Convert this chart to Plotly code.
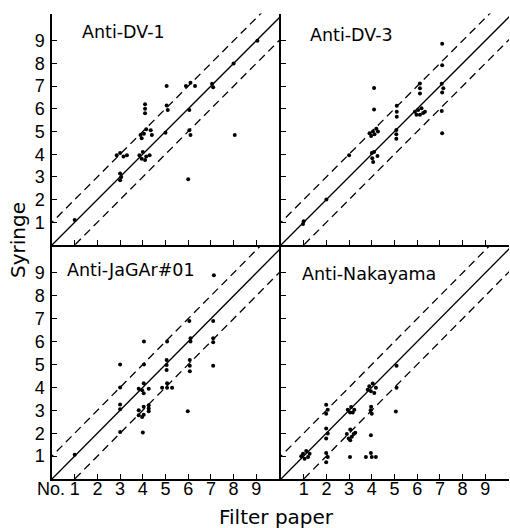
import plotly.graph_objects as go

# ---------------- data (filter paper No. vs syringe No.) ----------------
panel_titles = ["Anti-DV-1", "Anti-DV-3", "Anti-JaGAr#01", "Anti-Nakayama"]
tick_values = [1, 2, 3, 4, 5, 6, 7, 8, 9]
tick_labels = ["1", "2", "3", "4", "5", "6", "7", "8", "9"]
line_offsets = [-1, 0, 1]          # y = x + offset
line_dash = ["8px,5px", "solid", "8px,5px"]

dv1_x = [1.0, 2.85, 3.0, 3.15, 3.3, 3.0, 3.05, 3.0,
         3.85, 4.0, 4.15, 3.95, 4.3, 4.1,
         3.9, 4.05, 4.15, 3.95, 4.35, 4.4,
         4.1, 4.1, 4.1,
         5.05, 5.05, 5.1, 5.0,
         5.9, 6.1, 6.3, 6.05, 6.05, 6.1, 6.0,
         7.05, 7.1, 8.0, 8.05, 9.05]
dv1_y = [1.1, 3.95, 4.05, 3.9, 3.95, 3.15, 3.0, 2.85,
         3.95, 4.1, 3.9, 3.8, 3.95, 3.75,
         4.85, 4.9, 5.1, 4.7, 5.05, 4.85,
         6.2, 6.0, 5.8,
         7.0, 6.15, 5.95, 4.95,
         7.0, 7.15, 7.0, 5.95, 5.05, 4.85, 2.9,
         7.1, 6.95, 8.0, 4.85, 9.0]

dv3_x = [1.0, 0.97, 2.0, 3.0,
         3.9, 4.05, 4.2, 4.27, 3.97, 4.12,
         4.0, 4.1, 4.25, 4.02, 4.06,
         4.1, 4.1,
         5.1, 5.1, 5.1, 5.08, 5.08, 5.08,
         5.9, 6.04, 6.19, 6.26, 5.97, 6.12, 6.34,
         6.12, 6.12, 6.12,
         7.1, 7.1, 7.08, 7.15, 7.1, 7.08, 7.1]
dv3_y = [1.05, 0.92, 2.0, 3.95,
         4.92, 5.0, 5.12, 5.0, 4.8, 4.88,
         4.05, 4.1, 3.92, 3.82, 3.66,
         6.92, 5.97,
         6.13, 5.87, 5.65, 5.07, 4.88, 4.68,
         5.87, 5.95, 6.02, 5.81, 5.74, 5.74, 5.87,
         7.12, 6.9, 6.67,
         8.87, 7.92, 7.1, 6.9, 6.72, 5.9, 4.92]

jag_x = [1.0, 3.0, 3.0, 3.0, 3.0, 3.0,
         4.05, 4.05,
         3.82, 4.04, 4.26, 4.04, 3.97,
         3.82, 4.04, 4.26, 4.26, 3.82, 4.04, 3.97, 4.26,
         4.0,
         5.07, 5.05, 5.05, 5.05,
         4.85, 5.07, 5.29, 5.07,
         6.1, 6.1, 6.07, 6.07, 6.07, 5.98, 6.05,
         7.1, 7.1, 7.1, 7.1, 7.13]
jag_y = [1.06, 5.0, 4.0, 3.25, 3.05, 2.05,
         6.0, 5.0,
         3.94, 4.18, 3.94, 3.74, 3.88,
         3.0, 3.15, 3.22, 2.96, 2.78, 2.81, 2.71, 3.08,
         2.03,
         6.0, 5.2, 4.98, 4.76,
         3.98, 4.18, 3.98, 3.98,
         6.15, 6.0, 5.2, 4.95, 4.71, 2.96, 6.9,
         6.9, 6.15, 5.97, 4.95, 8.9]

nak_x = [0.97, 1.11, 1.19, 1.04, 0.89, 1.26,
         1.99, 2.06, 1.99, 1.99, 2.06, 1.99, 1.99, 2.06, 1.99,
         2.94, 3.09, 3.23, 3.04, 3.16,
         3.05, 2.9, 3.2, 3.12, 2.98, 3.27, 3.05, 3.04,
         3.89, 4.04, 4.18, 3.96, 4.11, 3.82,
         3.97, 3.95, 4.0, 3.96,
         3.74, 3.96, 4.0, 4.18,
         5.09, 5.09, 5.06]
nak_y = [1.1, 1.22, 0.96, 0.88, 0.99, 1.1,
         3.24, 3.02, 2.85, 2.21, 1.99, 1.77, 1.13, 0.96, 0.73,
         3.02, 3.14, 3.02, 2.9, 2.9,
         2.16, 1.96, 1.96, 1.84, 1.77, 2.02, 1.69, 0.96,
         4.05, 4.17, 3.98, 3.83, 3.76, 3.9,
         3.15, 3.0, 2.85, 1.91,
         0.96, 1.13, 0.96, 0.96,
         4.94, 3.98, 2.95]

panel_x = [dv1_x, dv3_x, jag_x, nak_x]
panel_y = [dv1_y, dv3_y, jag_y, nak_y]

# ---------------- layout geometry ----------------
W, H = 510, 528
def fx(px):
    return px / W
def fy(py):
    return 1 - py / H

x_dom = {"L": [fx(52), fx(280)], "R": [fx(281), fx(509)]}
y_dom = {"T": [fy(245), fy(13.5)], "B": [fy(479), fy(245)]}
x_rng = [0, 228 / 22.7]
y_rng_top = [0, 231.5 / 22.7]
y_rng_bot = [0, 234 / 22.9]

panels = [("L", "T"), ("R", "T"), ("L", "B"), ("R", "B")]

fig = go.Figure()
tick_font = dict(family="Liberation Sans, Arial, sans-serif", size=18, color="black")
text_font = dict(family="DejaVu Sans, sans-serif", size=17.5, color="black")

for i, (cx, cy) in enumerate(panels):
    n = "" if i == 0 else str(i + 1)
    xa, ya = "x" + n, "y" + n
    # reference lines y = x + offset
    for off, dash in zip(line_offsets, line_dash):
        lx = [0 - 1, 11]
        ly = [v + off for v in lx]
        fig.add_trace(go.Scatter(x=lx, y=ly, mode="lines", xaxis=xa, yaxis=ya,
                                 line=dict(color="black", width=1.3, dash=dash),
                                 hoverinfo="skip", showlegend=False))
    fig.add_trace(go.Scatter(x=panel_x[i], y=panel_y[i], mode="markers",
                             xaxis=xa, yaxis=ya,
                             marker=dict(color="black", size=4),
                             showlegend=False))

    axis_common = dict(showline=True, linecolor="black", linewidth=1.5,
                       ticks="inside", ticklen=5, tickwidth=1.2, tickcolor="black",
                       tickvals=tick_values, ticktext=tick_labels,
                       showgrid=False, zeroline=False, tickfont=tick_font)
    xaxis = dict(axis_common, domain=x_dom[cx], range=x_rng,
                 anchor=ya, showticklabels=(cy == "B"), ticklabelstandoff=-7)
    yaxis = dict(axis_common, domain=y_dom[cy],
                 range=(y_rng_top if cy == "T" else y_rng_bot),
                 anchor=xa, showticklabels=(cx == "L"), ticklabelstandoff=2)
    fig.layout["xaxis" + n] = xaxis
    fig.layout["yaxis" + n] = yaxis

title_pos = [(80, 32), (308, 35), (65, 270), (300, 274)]
annotations = []
for t, (px, py) in zip(panel_titles, title_pos):
    annotations.append(dict(text=t, x=fx(px), y=fy(py), xref="paper", yref="paper",
                            xanchor="left", yanchor="middle", showarrow=False,
                            font=text_font))
annotations.append(dict(text="No.", x=fx(67), y=fy(489), xref="paper", yref="paper",
                        xanchor="right", yanchor="middle", showarrow=False,
                        font=tick_font))
annotations.append(dict(text="Filter paper", x=fx(276), y=fy(517), xref="paper",
                        yref="paper", xanchor="center", yanchor="middle",
                        showarrow=False,
                        font=dict(family="DejaVu Sans, sans-serif", size=20, color="black")))
annotations.append(dict(text="Syringe", x=fx(18), y=fy(240), xref="paper",
                        yref="paper", xanchor="center", yanchor="middle",
                        textangle=-90, showarrow=False,
                        font=dict(family="DejaVu Sans, sans-serif", size=20, color="black")))

fig.update_layout(width=W, height=H, margin=dict(l=0, r=0, t=0, b=0),
                  paper_bgcolor="white", plot_bgcolor="white",
                  annotations=annotations, showlegend=False)

fig.write_html("out.html")
